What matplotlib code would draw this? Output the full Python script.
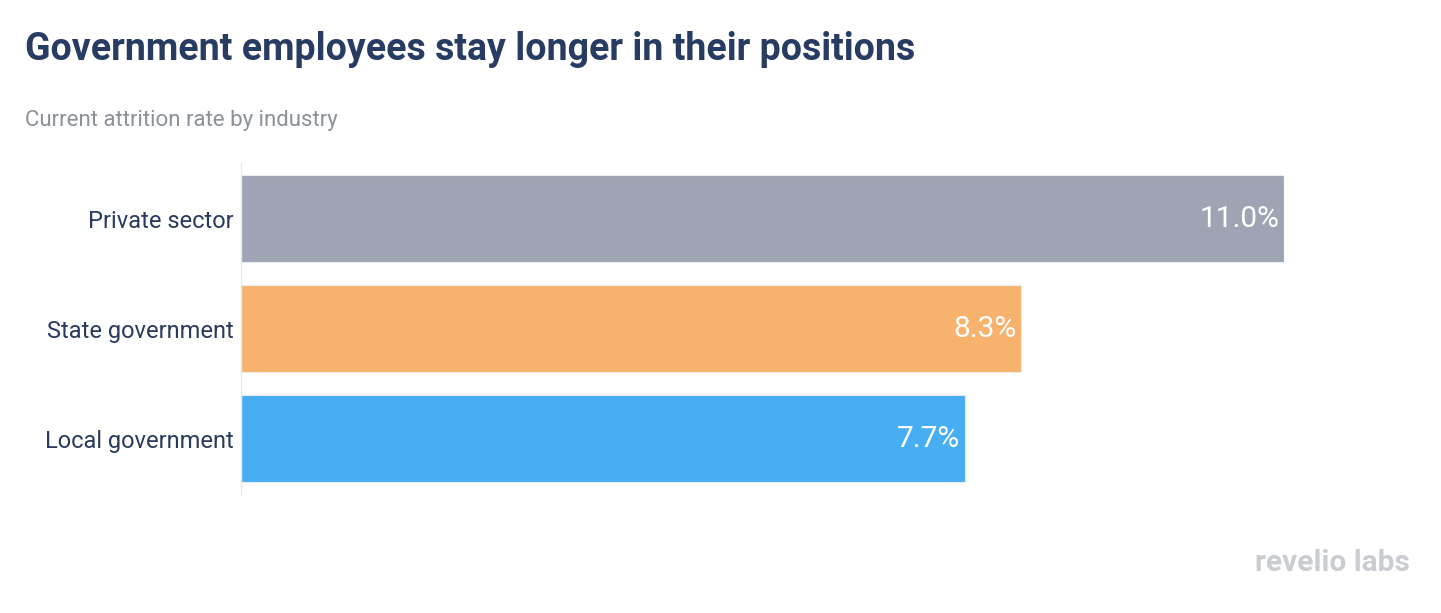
import numpy as np
import matplotlib.pyplot as plt

categories = ["Private sector", "State government", "Local government"]
rates = [11.04, 8.26, 7.66]
bar_colors = ["#9ea4b3", "#f7b36d", "#48aef3"]

plt.rcParams['font.family'] = ['Roboto', 'DejaVu Sans']

W, H = 1441, 613
fig = plt.figure(figsize=(W / 100, H / 100), dpi=100)
fig.patch.set_facecolor("white")

# axes box in pixels: left 241, right 1284, top 163, bottom 495
ax = fig.add_axes([241 / W, 1 - 495 / H, (1284 - 241) / W, (495 - 163) / H])

y = np.arange(len(categories))
ax.barh(y, rates, height=0.79, color=bar_colors, edgecolor="#e8ecf2", linewidth=0.8)
ax.set_xlim(0, max(rates))
ax.set_ylim(2.51, -0.505)

for yi, v in zip(y, rates):
    ax.annotate(f"{v:.1f}%", (v, yi), xytext=(-3.6, 0), textcoords="offset points",
                ha="right", va="center", color="white", fontsize=21.5)

ax.set_yticks(y)
ax.set_yticklabels(categories, fontsize=17, color="#2a3a5e")
ax.tick_params(axis="y", length=0, pad=5)
ax.set_xticks([])
for s in ["top", "right", "bottom"]:
    ax.spines[s].set_visible(False)
ax.spines["left"].set_color("#e6e8ec")
ax.spines["left"].set_linewidth(1)

fig.text(25 / W, 1 - 49 / H, "Government employees stay longer in their positions",
         fontsize=27, fontweight="bold", color="#283b63", va="center", ha="left")
fig.text(25 / W, 1 - 120 / H, "Current attrition rate by industry",
         fontsize=16, color="#8a9199", va="center", ha="left")
fig.text(1410 / W, 1 - 563 / H, "revelio labs", fontsize=21.5, fontweight="bold",
         color="#c9ccd1", va="center", ha="right")

fig.savefig("out.png", dpi=100, facecolor="white")
